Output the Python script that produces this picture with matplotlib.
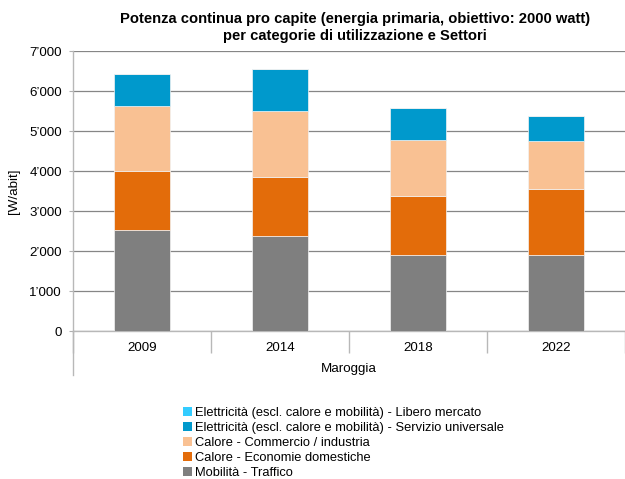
import matplotlib.pyplot as plt
from matplotlib.patches import Patch
from matplotlib.ticker import FuncFormatter
import numpy as np

plt.rcParams['font.family'] = ['Liberation Sans', 'DejaVu Sans']

anni = ['2009', '2014', '2018', '2022']
mobilita = [2525, 2383, 1892, 1892]
calore_dom = [1467, 1475, 1491, 1666]
calore_comm = [1625, 1650, 1400, 1192]
elett_univ = [808, 1042, 792, 625]
elett_libero = [0, 0, 0, 0]

serie = [
    ('Mobilità - Traffico', mobilita, '#7f7f7f'),
    ('Calore - Economie domestiche', calore_dom, '#e36c0a'),
    ('Calore - Commercio / industria', calore_comm, '#f9c193'),
    ('Elettricità (escl. calore e mobilità) - Servizio universale', elett_univ, '#0099cc'),
    ('Elettricità (escl. calore e mobilità) - Libero mercato', elett_libero, '#33ccff'),
]

fig = plt.figure(figsize=(6.25, 4.79), dpi=100)
ax = fig.add_axes([73/625, 1-331/479, 1-73/625, (331-51)/479])

x = np.arange(len(anni))
base = np.zeros(len(anni))
for nome, val, col in serie:
    ax.bar(x, val, 0.4, bottom=base, color=col, edgecolor='#f2f2f2', linewidth=0.5, zorder=3)
    base += np.array(val)

ax.set_xlim(-0.5, len(anni) - 0.5)
ax.set_ylim(0, 7000)
ax.set_yticks(range(0, 7001, 1000))
ax.yaxis.set_major_formatter(FuncFormatter(lambda v, p: f'{int(v):,}'.replace(',', '\u2019')))
ax.grid(axis='y', color='#868686', linewidth=0.9, zorder=0)
ax.tick_params(axis='y', length=3, color='#b0b0b0', labelsize=9.6, pad=5)

for s in ['top', 'right']:
    ax.spines[s].set_visible(False)
ax.spines['left'].set_color('#b8b8b8')
ax.spines['bottom'].set_color('#b8b8b8')
ax.spines['left'].set_linewidth(1.0)
ax.spines['bottom'].set_linewidth(1.0)

# asse x a due livelli
ax.set_xticks(np.arange(-0.5, len(anni)), labels=[])
ax.tick_params(axis='x', which='major', length=16, color='#b8b8b8', width=1.0)
ax.set_xticks(x, labels=anni, minor=True)
ax.tick_params(axis='x', which='minor', length=0, pad=8, labelsize=9.6)
ax.plot([-0.5, -0.5], [0, -0.157], transform=ax.get_xaxis_transform(),
        color='#b8b8b8', linewidth=1.0, clip_on=False)
ax.text(0.5, -0.137, 'Maroggia', transform=ax.transAxes, ha='center', va='center', fontsize=9.6)

ax.set_ylabel('[W/abit]', fontsize=9.6, labelpad=7)

fig.text(0.568, 0.942, 'Potenza continua pro capite (energia primaria, obiettivo: 2000 watt)\n'
         'per categorie di utilizzazione e Settori', ha='center', va='center',
         fontsize=10.6, fontweight='bold', linespacing=1.3)

handles = [Patch(facecolor=c, label=n) for n, v, c in serie[::-1]]
fig.legend(handles=handles, loc='upper left', bbox_to_anchor=(178/625, 1-402/479),
           frameon=False, fontsize=9.3, handlelength=0.7, handleheight=0.7,
           handletextpad=0.2, labelspacing=0.22, borderaxespad=0)

fig.savefig('out.png', dpi=100)
